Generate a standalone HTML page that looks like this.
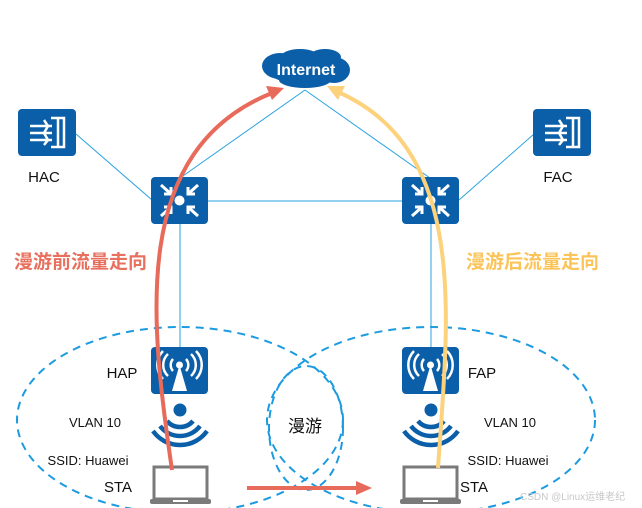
<!DOCTYPE html>
<html><head><meta charset="utf-8"><style>
body{margin:0;background:#fff;}
svg{display:block;}
text{font-family:"Liberation Sans","Noto Sans CJK SC",sans-serif;}
</style></head><body>
<svg width="642" height="508" viewBox="0 0 642 508" xmlns="http://www.w3.org/2000/svg">
<defs>
<g id="sw">
<rect x="0" y="0" width="57" height="47" rx="4" fill="#0b5fa8"/>
<circle cx="28.5" cy="23.5" r="5" fill="#fff"/>
<g stroke="#fff" stroke-width="3" fill="none">
<path d="M10,8 L20,17 M20,10 L20,17 L13,17"/>
<path d="M47,8 L37,17 M37,10 L37,17 L44,17"/>
<path d="M10,39 L20,30 M20,37 L20,30 L13,30"/>
<path d="M47,39 L37,30 M37,37 L37,30 L44,30"/>
</g>
</g>
<g id="ac">
<rect x="0" y="0" width="58" height="47" rx="4" fill="#0b5fa8"/>
<g stroke="#fff" stroke-width="2.5" fill="none">
<path d="M40,9 L40,38 M33,9 L46,9 L46,38 L33,38"/>
<path d="M12,17 L34,17 M12,24 L34,24 M12,31 L34,31"/>
<path d="M26,11 L30,17 L26,24 L30,31 L26,36"/>
</g>
</g>
<g id="ap">
<rect x="0" y="0" width="57" height="47" rx="4" fill="#0b5fa8"/>
<polygon points="28.5,18 21,44 36,44" fill="#fff"/>
<circle cx="28.5" cy="18" r="3.5" fill="#fff"/>
<g stroke="#fff" stroke-width="2.5" fill="none">
<path d="M22,12 A9,9 0 0 0 22,24"/><path d="M35,12 A9,9 0 0 1 35,24"/>
<path d="M17,7 A15,15 0 0 0 17,29"/><path d="M40,7 A15,15 0 0 1 40,29"/>
<path d="M12,4 A20,20 0 0 0 12,32"/><path d="M45,4 A20,20 0 0 1 45,32"/>
</g>
</g>
<g id="wifi">
<circle cx="0" cy="0" r="6.5" fill="#0b5fa8"/>
<g stroke="#0b5fa8" stroke-width="4.5" fill="none">
<path d="M-13,11 A17,17 0 0 0 13,11"/>
<path d="M-20,16 A25,25 0 0 0 20,16"/>
<path d="M-27,21 A33,33 0 0 0 27,21"/>
</g>
</g>
<g id="lap">
<rect x="4" y="0" width="53" height="32" fill="#fff" stroke="#7a7a7a" stroke-width="3"/>
<rect x="0" y="32" width="61" height="5" rx="2" fill="#7a7a7a"/>
<rect x="23" y="33" width="15" height="2" fill="#fff"/>
</g>
</defs>

<g stroke="#29a3e0" stroke-width="1" fill="none">
<line x1="76" y1="134" x2="152" y2="200"/>
<line x1="180" y1="178" x2="305" y2="90"/>
<line x1="305" y1="90" x2="430" y2="178"/>
<line x1="534" y1="134" x2="459" y2="200"/>
<line x1="208" y1="201" x2="402" y2="201"/>
<line x1="180" y1="224" x2="180" y2="347"/>
<line x1="431" y1="224" x2="431" y2="347"/>
</g>

<g fill="#0b5fa8">
<ellipse cx="306" cy="69" rx="40" ry="15"/>
<ellipse cx="280" cy="66" rx="18" ry="13"/>
<ellipse cx="300" cy="58" rx="20" ry="9"/>
<ellipse cx="325" cy="57" rx="16" ry="8"/>
<ellipse cx="334" cy="70" rx="16" ry="13"/>
<ellipse cx="305" cy="80" rx="26" ry="8"/>
</g>
<text x="306" y="75" font-size="16" font-weight="bold" fill="#fff" text-anchor="middle">Internet</text>

<use href="#ac" x="18" y="109"/>
<use href="#ac" x="533" y="109"/>
<text x="44" y="182" font-size="15" text-anchor="middle" fill="#111">HAC</text>
<text x="558" y="182" font-size="15" text-anchor="middle" fill="#111">FAC</text>
<use href="#sw" x="151" y="177"/>
<use href="#sw" x="402" y="177"/>
<use href="#ap" x="151" y="347"/>
<use href="#ap" x="402" y="347"/>
<use href="#wifi" x="180" y="410"/>
<use href="#wifi" x="431" y="410"/>
<use href="#lap" x="150" y="467"/>
<use href="#lap" x="400" y="467"/>

<g stroke="#1d9be0" stroke-width="2" stroke-dasharray="8,6" fill="none">
<ellipse cx="180" cy="420" rx="163" ry="93"/>
<ellipse cx="431" cy="420" rx="164" ry="93"/>
<ellipse cx="306" cy="428" rx="37" ry="62"/>
</g>

<text x="122" y="378" font-size="15" text-anchor="middle" fill="#111">HAP</text>
<text x="482" y="378" font-size="15" text-anchor="middle" fill="#111">FAP</text>
<text x="95" y="427" font-size="13" text-anchor="middle" fill="#111">VLAN 10</text>
<text x="510" y="427" font-size="13" text-anchor="middle" fill="#111">VLAN 10</text>
<text x="88" y="465" font-size="13" text-anchor="middle" fill="#111">SSID: Huawei</text>
<text x="508" y="465" font-size="13" text-anchor="middle" fill="#111">SSID: Huawei</text>
<text x="118" y="492" font-size="15" text-anchor="middle" fill="#111">STA</text>
<text x="474" y="492" font-size="15" text-anchor="middle" fill="#111">STA</text>
<text x="305" y="432" font-size="17" text-anchor="middle" fill="#111">漫游</text>

<path d="M172,470 C150,320 130,150 272,93" stroke="#e86a5a" stroke-width="4" fill="none"/>
<polygon points="284,88 266,86 272,100" fill="#e86a5a"/>
<path d="M438,468 C448,320 470,150 338,92" stroke="#fcd27c" stroke-width="4" fill="none"/>
<polygon points="327,86 345,86 338,100" fill="#fcd27c"/>
<line x1="247" y1="488" x2="358" y2="488" stroke="#e86a5a" stroke-width="4"/>
<polygon points="372,488 356,481 356,495" fill="#e86a5a"/>

<text x="14" y="268" font-size="19" font-weight="bold" fill="#e8705f">漫游前流量走向</text>
<text x="466" y="268" font-size="19" font-weight="bold" fill="#fbc45a">漫游后流量走向</text>
<text x="520" y="500" font-size="10" fill="#c8c8c8">CSDN @Linux运维老纪</text>
</svg>
</body></html>
